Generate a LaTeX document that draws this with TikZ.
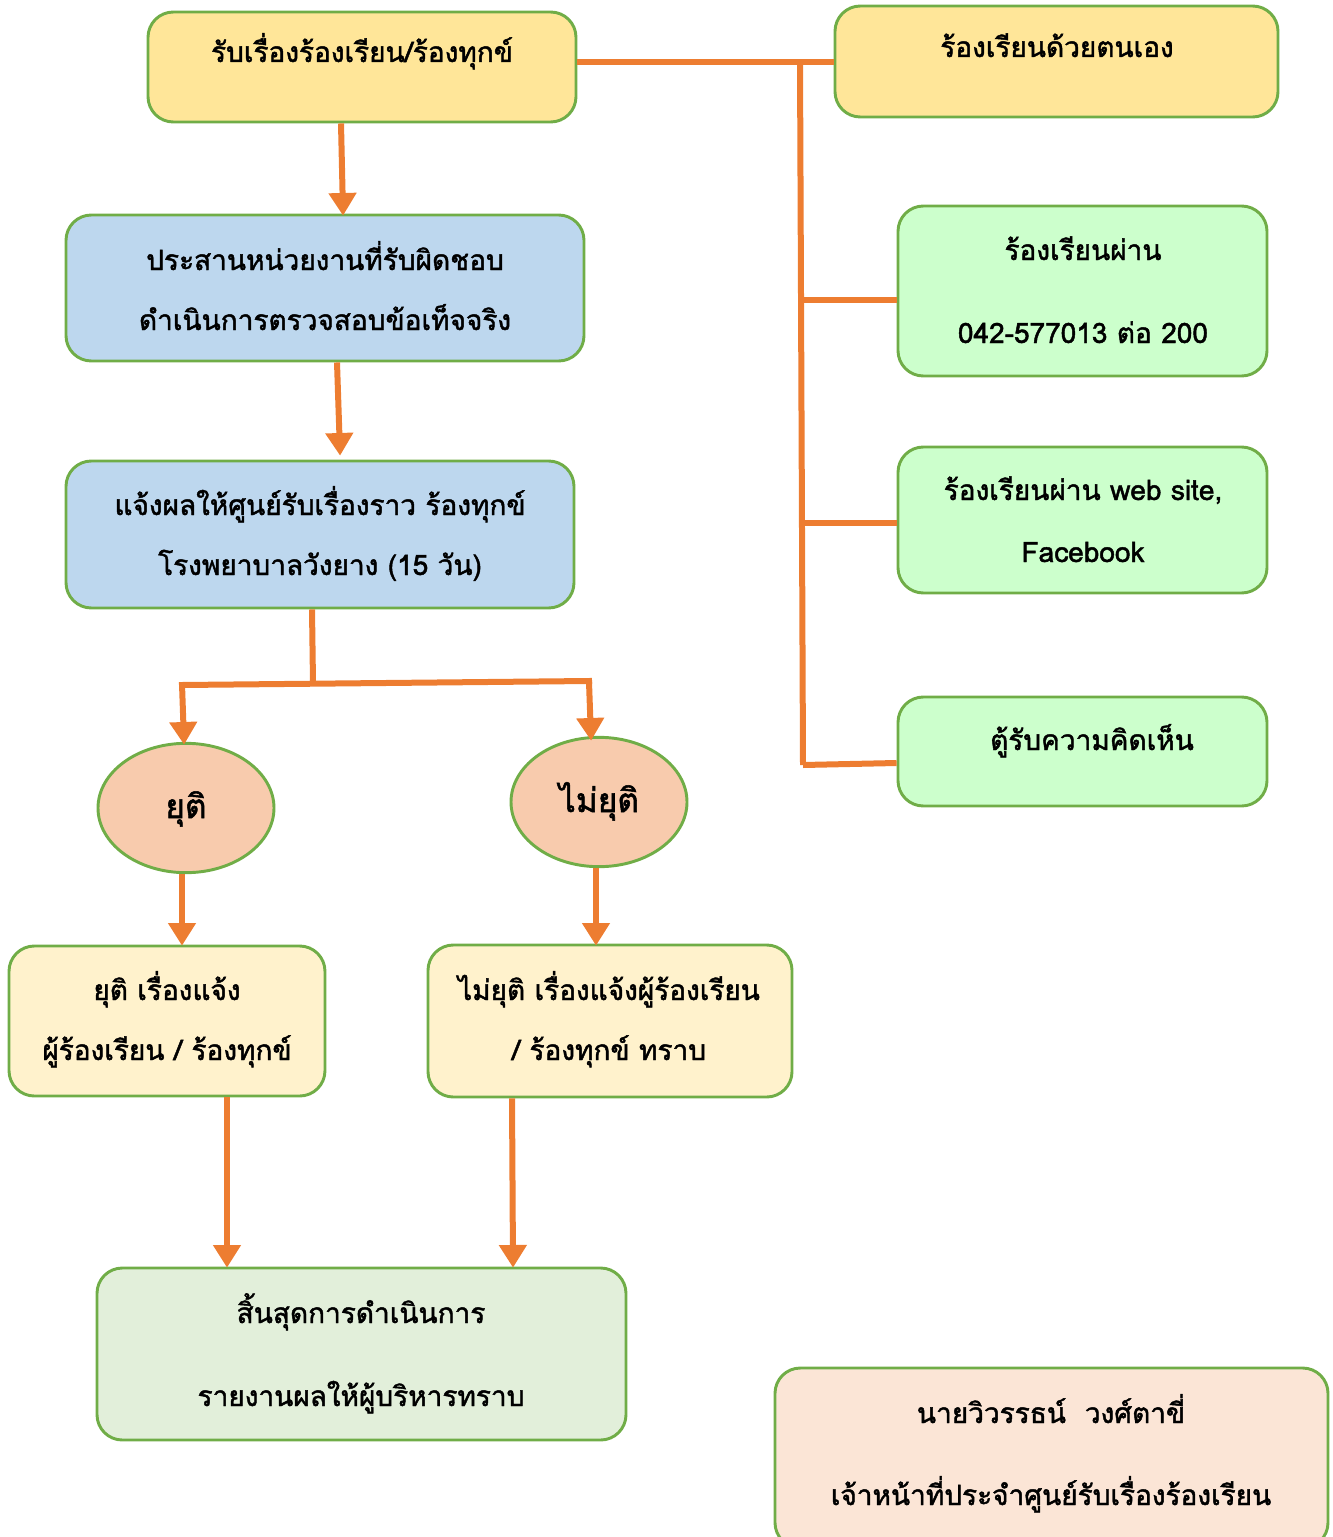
\documentclass[tikz,border=0pt]{standalone}
\usepackage{fontspec}
\newfontfamily\thai[Script=Thai,FakeBold=1.6]{Loma}
\usetikzlibrary{shapes.geometric,fit,arrows.meta}
\definecolor{ln}{HTML}{ED7D31}
\definecolor{bd}{HTML}{70AD47}
\definecolor{yel}{HTML}{FFE699}
\definecolor{blu}{HTML}{BDD7EE}
\definecolor{grn}{HTML}{CCFFCC}
\definecolor{cre}{HTML}{FFF2CC}
\definecolor{sal}{HTML}{F8CBAD}
\definecolor{pgr}{HTML}{E2EFDA}
\definecolor{pea}{HTML}{FBE5D6}
\tikzset{
  box/.style={draw=bd, line width=2.2pt, rounded corners=19pt, inner sep=0pt},
  oval/.style={ellipse, draw=bd, line width=2.2pt, fill=sal, inner sep=0pt, minimum width=132pt, minimum height=97pt},
  txt/.style={font=\thai\fontsize{21}{25}\selectfont, inner sep=0pt, anchor=base},
  wire/.style={draw=ln, line width=4.5pt},
  arr/.style={wire, -{Triangle[width=20pt,length=17pt]}, shorten >=-2pt}
}
\begin{document}
\begin{tikzpicture}[x=0.75pt,y=-0.75pt]
\useasboundingbox (0,0) rectangle (1333,1537);
% boxes
\node[box, fill=yel, fit={(148,12)(576,122)}] (n1) {};
\node[box, fill=yel, fit={(835,6)(1278,117)}] (self) {};
\node[box, fill=blu, fit={(66,215)(584,361)}] (n3) {};
\node[box, fill=blu, fit={(66,461)(574,608)}] (n4) {};
\node[box, fill=grn, fit={(898,206)(1267,376)}] (phone) {};
\node[box, fill=grn, fit={(898,447)(1267,593)}] (web) {};
\node[box, fill=grn, fit={(898,697)(1267,806)}] (cbox) {};
\node[oval] (yuti) at (186,808) {};
\node[oval] (mai) at (599,802) {};
\node[box, fill=cre, fit={(9,946)(325,1096)}] (n5) {};
\node[box, fill=cre, fit={(428,945)(792,1097)}] (n6) {};
\node[box, fill=pgr, fit={(97,1268)(626,1440)}] (n7) {};
\node[box, fill=pea, fit={(775,1368)(1328,1548)}] (n8) {};
% texts
\node[txt] (t1) at (362,62) {รับเรื่องร้องเรียน/ร้องทุกข์};
\node[txt] (t2) at (1057,57) {ร้องเรียนด้วยตนเอง};
\node[txt] (t3a) at (325,270) {ประสานหน่วยงานที่รับผิดชอบ};
\node[txt] (t3b) at (325,330) {ดำเนินการตรวจสอบข้อเท็จจริง};
\node[txt] (t4a) at (320,515) {แจ้งผลให้ศูนย์รับเรื่องราว ร้องทุกข์};
\node[txt] (t4b) at (320,575) {โรงพยาบาลวังยาง (15 วัน)};
\node[txt] (t5a) at (1083,260) {ร้องเรียนผ่าน};
\node[txt] (t5b) at (1083,343) {042-577013 ต่อ 200};
\node[txt] (t6a) at (1083,500) {ร้องเรียนผ่าน web site,};
\node[txt] (t6b) at (1083,562) {Facebook};
\node[txt] (t7) at (1092,750) {ตู้รับความคิดเห็น};
\node[txt, font=\thai\fontsize{25}{30}\selectfont] (ty) at (186,818) {ยุติ};
\node[txt, font=\thai\fontsize{25}{30}\selectfont] (tm) at (599,812) {ไม่ยุติ};
\node[txt] (t8a) at (167,1000) {ยุติ เรื่องแจ้ง};
\node[txt] (t8b) at (167,1060) {ผู้ร้องเรียน / ร้องทุกข์};
\node[txt] (t9a) at (609,1000) {ไม่ยุติ เรื่องแจ้งผู้ร้องเรียน};
\node[txt] (t9b) at (609,1060) {/ ร้องทุกข์ ทราบ};
\node[txt] (t10a) at (361,1323) {สิ้นสุดการดำเนินการ};
\node[txt] (t10b) at (361,1406) {รายงานผลให้ผู้บริหารทราบ};
\node[txt] (t11a) at (1051,1423) {นายวิวรรธน์~~วงศ์ตาขี่};
\node[txt] (t11b) at (1051,1505) {เจ้าหน้าที่ประจำศูนย์รับเรื่องร้องเรียน};
% connectors
\coordinate (bus0) at (800,62);
\coordinate (bus1) at (803,765);
\draw[wire] (n1.east |- 0,62) -- (self.west |- 0,62);
\draw[wire] (bus0) -- (bus1);
\draw[wire] (801,300) -- (phone.west |- 0,300);
\draw[wire] (802,523) -- (web.west |- 0,523);
\draw[wire] (bus1) -- (cbox.west |- 0,763);
\draw[arr] (n1.south -| 341,0) -- (343,213);
\draw[arr] (n3.south -| 337,0) -- (340,453);
\coordinate (sp) at (313,683);
\draw[wire] (n4.south -| 312,0) -- (sp);
\draw[arr] (182,684) -- (184,742);
\draw[arr] (589,682) -- (591,738);
\draw[wire, line cap=rect] (182,685) -- (589,681);
\draw[arr] (yuti.south -| 182,0) -- (182,943);
\draw[arr] (mai.south -| 596,0) -- (596,943);
\draw[arr] (n5.south -| 227,0) -- (227,1265);
\draw[arr] (n6.south -| 512,0) -- (513,1265);
\end{tikzpicture}
\end{document}
